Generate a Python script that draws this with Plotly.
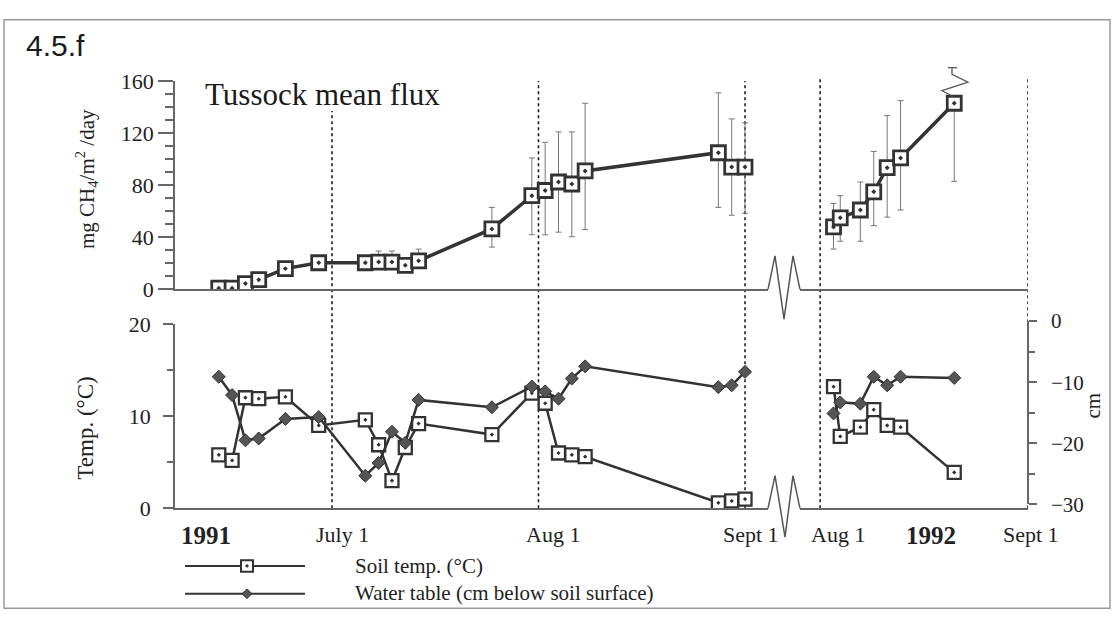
import plotly.graph_objects as go

W, H = 1114, 625

# ---------------- data ----------------
dates_1991 = ["1991-06-14", "1991-06-16", "1991-06-18", "1991-06-20", "1991-06-24",
              "1991-06-29", "1991-07-06", "1991-07-08", "1991-07-10", "1991-07-12",
              "1991-07-14", "1991-07-25", "1991-07-31", "1991-08-02", "1991-08-04",
              "1991-08-06", "1991-08-08", "1991-08-28", "1991-08-30", "1991-09-01"]
dates_1992 = ["1992-08-03", "1992-08-04", "1992-08-07", "1992-08-09", "1992-08-11",
              "1992-08-13", "1992-08-21"]

flux_1991 = [1, 1, 4.5, 7.5, 16, 20.5, 20.5, 21, 21, 18.5, 22, 46.5, 72, 76, 82.5, 81, 91, 105, 94, 94]
flux_err_plus_1991 = [0, 0, 0, 0, 0, 0, 0, 8.5, 8.5, 0, 9, 16.5, 29, 37, 38.5, 40, 52, 46, 37, 34]
flux_err_minus_1991 = [0, 0, 0, 0, 0, 0, 0, 0, 0, 0, 0, 14, 30, 34, 38.5, 40.5, 45, 42, 37, 35.5]

flux_1992 = [48, 55, 61, 75, 93.5, 101, 143]
flux_err_plus_1992 = [18, 17, 21.5, 31, 40, 44, 0]
flux_err_minus_1992 = [17, 18, 24, 26, 38, 40, 60]

temp_1991 = [5.8, 5.2, 12.0, 11.9, 12.1, 9.0, 9.6, 6.9, 3.0, 6.6, 9.2, 8.0, 12.5, 11.4, 6.0, 5.8, 5.6, 0.6, 0.8, 1.0]
water_1991 = [-9.1, -12.1, -19.5, -19.2, -16.0, -15.7, -25.3, -23.2, -18.1, -19.9, -12.9, -14.1,
              -10.7, -11.5, -12.7, -9.4, -7.4, -10.8, -10.5, -8.3]

temp_1992 = [13.2, 7.8, 8.8, 10.7, 9.0, 8.8, 3.9]
water_1992 = [-15.1, -13.3, -13.5, -9.1, -10.5, -9.1, -9.3]

flux_ticks = [0, 40, 80, 120, 160]
flux_minor = [10, 20, 30, 50, 60, 70, 90, 100, 110, 130, 140, 150]
temp_ticks = [0, 10, 20]
temp_minor = [5, 15]
water_ticks = [-30, -20, -10, 0]
water_minor = [-25, -15, -5]

month_labels = ["July 1", "Aug 1", "Sept 1", "Aug 1", "Sept 1"]
year_labels = ["1991", "1992"]

# ---------------- helpers ----------------
def px(x):
    return x / W

def py(y):
    return 1 - y / H

def path(points, close=False):
    s = "M " + " L ".join(f"{px(a):.5f},{py(b):.5f}" for a, b in points)
    return s + (" Z" if close else "")

SERIF = "Liberation Serif"
DARK = "#333333"
AXC = "#666666"

fig = go.Figure()

sq_marker_top = dict(symbol="square-dot", size=14, color="white", line=dict(color=DARK, width=2.8))
sq_marker_bot = dict(symbol="square-dot", size=13, color="white", line=dict(color=DARK, width=2.3))
dia_marker = dict(symbol="diamond", size=10, color="#555555", line=dict(color=DARK, width=1))

err_style = dict(type="data", symmetric=False, color="#777777", thickness=1, width=3)

# top panel: flux
fig.add_trace(go.Scatter(x=dates_1991, y=flux_1991, xaxis="x", yaxis="y", mode="lines+markers",
                         line=dict(color=DARK, width=3.5), marker=sq_marker_top,
                         error_y=dict(array=flux_err_plus_1991, arrayminus=flux_err_minus_1991, **err_style)))
fig.add_trace(go.Scatter(x=dates_1992, y=flux_1992, xaxis="x2", yaxis="y", mode="lines+markers",
                         line=dict(color=DARK, width=3.5), marker=sq_marker_top,
                         error_y=dict(array=flux_err_plus_1992, arrayminus=flux_err_minus_1992, **err_style)))

# bottom panel: water table then soil temp
fig.add_trace(go.Scatter(x=dates_1991, y=water_1991, xaxis="x3", yaxis="y4", mode="lines+markers",
                         line=dict(color=DARK, width=2.5), marker=dia_marker))
fig.add_trace(go.Scatter(x=dates_1992, y=water_1992, xaxis="x4", yaxis="y4", mode="lines+markers",
                         line=dict(color=DARK, width=2.5), marker=dia_marker))
fig.add_trace(go.Scatter(x=dates_1991, y=temp_1991, xaxis="x3", yaxis="y3", mode="lines+markers",
                         line=dict(color=DARK, width=2.5), marker=sq_marker_bot))
fig.add_trace(go.Scatter(x=dates_1992, y=temp_1992, xaxis="x4", yaxis="y3", mode="lines+markers",
                         line=dict(color=DARK, width=2.5), marker=sq_marker_bot))

dom91 = [px(175), px(768)]
dom92 = [px(800), px(1028)]
rng91 = ["1991-06-07 10:19", "1991-09-04 10:48"]
rng92 = ["1992-07-29", "1992-09-01"]

xbase = dict(type="date", showline=True, linecolor=AXC, linewidth=1.5, ticks="",
             showticklabels=False, showgrid=False, zeroline=False)
tickfont = dict(family=SERIF, size=22, color="#222222")
rtickfont = dict(family=SERIF, size=21, color="#222222")

fig.update_layout(
    width=W, height=H, margin=dict(l=0, r=0, t=0, b=0),
    paper_bgcolor="white", plot_bgcolor="rgba(0,0,0,0)", showlegend=False,
    xaxis=dict(domain=dom91, range=rng91, anchor="y", **xbase),
    xaxis2=dict(domain=dom92, range=rng92, anchor="y", **xbase),
    xaxis3=dict(domain=dom91, range=rng91, anchor="y3", **xbase),
    xaxis4=dict(domain=dom92, range=rng92, anchor="y3", **xbase),
    yaxis=dict(domain=[py(289), py(72)], range=[0, 160], anchor="x", showline=True,
               linecolor=AXC, linewidth=1.5, ticks="outside", tickvals=flux_ticks,
               ticklen=15, tickcolor=AXC, tickwidth=1.5, tickfont=tickfont,
               showgrid=False, zeroline=False,
               minor=dict(tickvals=flux_minor, ticks="outside", ticklen=8, tickcolor=AXC, tickwidth=1.5)),
    yaxis3=dict(domain=[py(517), py(325)], range=[0, 20], anchor="x3", showline=True,
                linecolor=AXC, linewidth=1.5, ticks="outside", tickvals=temp_ticks,
                ticklen=10, tickcolor=AXC, tickwidth=1.5, tickfont=tickfont, ticklabelstandoff=8,
                showgrid=False, zeroline=False,
                minor=dict(tickvals=temp_minor, ticks="outside", ticklen=6, tickcolor=AXC, tickwidth=1.5)),
    yaxis4=dict(domain=[py(513), py(322)], range=[-30, 0], anchor="free", position=px(1028),
                side="right", showline=True, linecolor=AXC, linewidth=1.5, ticks="outside",
                tickvals=water_ticks, ticklen=8, tickcolor=AXC, tickwidth=1.5, tickfont=rtickfont,
                ticklabelstandoff=10, showgrid=False, zeroline=False,
                minor=dict(tickvals=water_minor, ticks="outside", ticklen=6, tickcolor=AXC, tickwidth=1.5)),
)

shapes = []
# dotted date lines
dot = dict(color="#111111", width=1.5, dash="dot")
for xr, d, top in [("x3", "1991-07-01", 103), ("x3", "1991-08-01", 72), ("x3", "1991-09-01", 72),
                   ("x4", "1992-08-01", 68), ("x4", "1992-09-01", 68)]:
    shapes.append(dict(type="line", xref=xr, yref="paper", x0=d, x1=d, y0=py(517), y1=py(top),
                       line=dot, layer="below"))
# axis breaks
zz = dict(color="#555555", width=1.5)
shapes.append(dict(type="path", xref="paper", yref="paper",
                   path=path([(768, 289), (775, 254), (784, 320), (793, 254), (800, 289)]), line=zz))
shapes.append(dict(type="path", xref="paper", yref="paper",
                   path=path([(768, 517), (775, 483), (785, 547), (793, 483), (800, 517)]), line=zz))
# break glyph on last 1992 error bar
shapes.append(dict(type="path", xref="paper", yref="paper",
                   path=path([(953, 88), (942, 82), (968, 73), (952, 65), (952, 58)]),
                   line=dict(color="#555555", width=1.3)))
shapes.append(dict(type="line", xref="paper", yref="paper", x0=px(948), x1=px(957), y0=py(58), y1=py(58),
                   line=dict(color="#555555", width=1.3)))
# frame
shapes.append(dict(type="rect", xref="paper", yref="paper", x0=px(4), x1=px(1110), y0=py(621), y1=py(8),
                   line=dict(color="#9a9a9a", width=1.5)))
# legend samples
shapes.append(dict(type="line", xref="paper", yref="paper", x0=px(185), x1=px(305), y0=py(577), y1=py(577),
                   line=dict(color=DARK, width=2)))
shapes.append(dict(type="rect", xref="paper", yref="paper", x0=px(241), x1=px(253), y0=py(583), y1=py(571),
                   fillcolor="white", line=dict(color=DARK, width=2)))
shapes.append(dict(type="rect", xref="paper", yref="paper", x0=px(246), x1=px(248), y0=py(578), y1=py(576),
                   fillcolor=DARK, line=dict(color=DARK, width=1)))
shapes.append(dict(type="line", xref="paper", yref="paper", x0=px(185), x1=px(305), y0=py(606), y1=py(606),
                   line=dict(color=DARK, width=2)))
shapes.append(dict(type="path", xref="paper", yref="paper",
                   path=path([(247, 601), (252, 606), (247, 611), (242, 606)], close=True),
                   fillcolor="#555555", line=dict(color=DARK, width=1)))
fig.update_layout(shapes=shapes)

ann = []
def text(x, y, s, size=20, family=SERIF, xanchor="center", angle=0, bold=False, color="#222222"):
    ann.append(dict(x=px(x), y=py(y), xref="paper", yref="paper", text=(f"<b>{s}</b>" if bold else s),
                    showarrow=False, xanchor=xanchor, yanchor="middle", textangle=angle,
                    font=dict(family=family, size=size, color=color)))

text(24, 35, "4.5.f", size=30, family="Liberation Sans", xanchor="left", color="#1a1a1a")
text(203, 86, "Tussock mean flux", size=31, xanchor="left", color="#1a1a1a")
text(86, 174, "mg CH<sub>4</sub>/m<sup>2</sup> /day", size=21, angle=-90)
text(86, 434, "Temp. (°C)", size=23, angle=-90)
text(1093, 410, "cm", size=21, angle=-90)
# x labels
for xc, s in zip([342, 553, 751, 838, 1031], month_labels):
    text(xc, 544, s, size=22)
for xc, s in zip([206, 931], year_labels):
    text(xc, 545, s, size=25, bold=True)
# legend texts
text(353, 577, "Soil temp. (°C)", size=21, xanchor="left")
text(353, 605, "Water table (cm below soil surface)", size=21, xanchor="left")
fig.update_layout(annotations=ann)

fig.write_html("out.html")
